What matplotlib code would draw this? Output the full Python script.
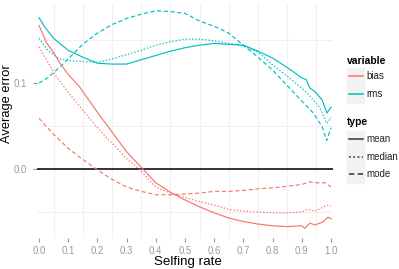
import matplotlib
matplotlib.use("Agg")
import matplotlib.pyplot as plt
from matplotlib.lines import Line2D

plt.rcParams["font.family"] = ["Liberation Sans", "DejaVu Sans"]

RED = "#F8766D"
CYAN = "#00BFC4"

# ---- data ----
rms_mean_x = [0, 0.02, 0.05, 0.1, 0.15, 0.2, 0.25, 0.3, 0.35, 0.4, 0.45, 0.5, 0.55, 0.6, 0.65, 0.7, 0.75, 0.8, 0.85, 0.9, 0.915, 0.928, 0.945, 0.97, 0.986, 1.0]
rms_mean_y = [0.176, 0.165, 0.152, 0.138, 0.130, 0.123, 0.122, 0.122, 0.127, 0.132, 0.137, 0.141, 0.144, 0.146, 0.145, 0.144, 0.137, 0.129, 0.118, 0.106, 0.104, 0.094, 0.090, 0.080, 0.065, 0.072]

rms_median_x = [0, 0.03, 0.07, 0.1, 0.15, 0.2, 0.25, 0.3, 0.35, 0.4, 0.45, 0.5, 0.55, 0.6, 0.65, 0.7, 0.75, 0.8, 0.85, 0.9, 0.92, 0.96, 0.986, 1.0]
rms_median_y = [0.152, 0.138, 0.128, 0.126, 0.125, 0.124, 0.128, 0.133, 0.138, 0.144, 0.148, 0.151, 0.151, 0.149, 0.146, 0.143, 0.136, 0.121, 0.108, 0.094, 0.088, 0.072, 0.053, 0.060]

rms_mode_x = [0, 0.03, 0.06, 0.1, 0.15, 0.2, 0.25, 0.3, 0.35, 0.4, 0.45, 0.5, 0.55, 0.6, 0.65, 0.7, 0.75, 0.8, 0.85, 0.9, 0.94, 0.97, 0.985, 1.0]
rms_mode_y = [0.100, 0.106, 0.115, 0.128, 0.145, 0.158, 0.168, 0.175, 0.180, 0.184, 0.183, 0.181, 0.172, 0.166, 0.158, 0.144, 0.130, 0.115, 0.097, 0.079, 0.065, 0.049, 0.033, 0.048]

bias_mean_x = [0, 0.027, 0.045, 0.072, 0.1, 0.14, 0.2, 0.25, 0.3, 0.35, 0.4, 0.45, 0.5, 0.55, 0.6, 0.65, 0.7, 0.75, 0.8, 0.85, 0.9, 0.91, 0.928, 0.945, 0.97, 0.99, 1.0]
bias_mean_y = [0.167, 0.146, 0.138, 0.123, 0.110, 0.095, 0.066, 0.043, 0.020, 0.002, -0.016, -0.027, -0.036, -0.044, -0.051, -0.057, -0.061, -0.064, -0.066, -0.067, -0.066, -0.069, -0.063, -0.065, -0.062, -0.056, -0.058]

bias_median_x = [0, 0.06, 0.117, 0.2, 0.25, 0.3, 0.346, 0.4, 0.45, 0.5, 0.55, 0.6, 0.65, 0.7, 0.75, 0.8, 0.85, 0.9, 0.92, 0.945, 0.97, 0.986, 1.0]
bias_median_y = [0.142, 0.107, 0.082, 0.048, 0.030, 0.012, -0.001, -0.021, -0.028, -0.033, -0.038, -0.042, -0.047, -0.049, -0.050, -0.051, -0.051, -0.050, -0.047, -0.049, -0.045, -0.042, -0.043]

bias_mode_x = [0, 0.045, 0.1, 0.15, 0.2, 0.25, 0.3, 0.35, 0.4, 0.45, 0.5, 0.55, 0.6, 0.65, 0.7, 0.75, 0.8, 0.85, 0.9, 0.928, 0.95, 0.98, 1.0]
bias_mode_y = [0.059, 0.042, 0.024, 0.011, -0.001, -0.012, -0.021, -0.026, -0.030, -0.030, -0.029, -0.028, -0.026, -0.026, -0.025, -0.023, -0.022, -0.020, -0.018, -0.015, -0.016, -0.016, -0.021]

x_ticks = [0.0, 0.1, 0.2, 0.3, 0.4, 0.5, 0.6, 0.7, 0.8, 0.9, 1.0]
x_tick_labels = ["0.0", "0.1", "0.2", "0.3", "0.4", "0.5", "0.6", "0.7", "0.8", "0.9", "1.0"]
y_ticks = [0.0, 0.1]
y_tick_labels = ["0.0", "0.1"]
variables = ["bias", "rms"]
types = ["mean", "median", "mode"]

# ---- figure ----
W, H = 399, 269
fig = plt.figure(figsize=(W / 100, H / 100), dpi=100)
L, R, T, B = 37.0, 333.0, 3.5, 237.5
ax = fig.add_axes([L / W, 1 - B / H, (R - L) / W, (B - T) / H])

# pixel mapping: x=0 -> 39 px, x=1 -> 331 px ; y=0 -> 169 px, 0.1 per 86 px
x0px, xscale = 39.0, 292.0
y0px, yscale = 169.0, 860.0
ax.set_xlim((L - x0px) / xscale, (R - x0px) / xscale)
ax.set_ylim((y0px - B) / yscale, (y0px - T) / yscale)

dotted = (0, (1.2, 1.6))
dashed = (0, (3.5, 2.2))
lw = 0.85

ax.axhline(0, color="#333333", lw=1.4, zorder=3)

ax.plot(rms_mean_x, rms_mean_y, color=CYAN, lw=lw, zorder=4)
ax.plot(rms_median_x, rms_median_y, color=CYAN, lw=lw, linestyle=dotted, zorder=4)
ax.plot(rms_mode_x, rms_mode_y, color=CYAN, lw=lw, linestyle=dashed, zorder=4)
ax.plot(bias_mean_x, bias_mean_y, color=RED, lw=lw, zorder=4)
ax.plot(bias_median_x, bias_median_y, color=RED, lw=lw, linestyle=dotted, zorder=4)
ax.plot(bias_mode_x, bias_mode_y, color=RED, lw=lw, linestyle=dashed, zorder=4)

for s in ax.spines.values():
    s.set_visible(False)

# light grid at midpoints
for gx in [0.05 + 0.1 * i for i in range(10)]:
    ax.axvline(gx, color="#F0F0F0", lw=0.8, zorder=0)
for gy in [-0.05, 0.05, 0.15]:
    ax.axhline(gy, color="#F0F0F0", lw=0.8, zorder=0)

ax.set_xticks(x_ticks)
ax.set_xticklabels(x_tick_labels)
ax.set_yticks(y_ticks)
ax.set_yticklabels(y_tick_labels)
ax.tick_params(axis="both", colors="#999999", labelcolor="#999999", labelsize=6.9,
               length=3, width=0.8)
ax.tick_params(axis="y", pad=4.5)
ax.tick_params(axis="x", pad=3.0)

def fx(px):
    return px / W

def fy(py):
    return 1 - py / H

fig.text(fx(187.5), fy(265), "Selfing rate", fontsize=9.6, color="black", ha="center", va="baseline")
fig.text(fx(7.5), fy(104), "Average error", fontsize=9.3, color="black", ha="center", va="center",
         rotation=90)

# ---- legends ----
fig.text(fx(347), fy(61), "variable", fontsize=7.4, fontweight="bold", va="center", ha="left")
key_styles_var = [RED, CYAN]
var_y = [76, 94]
for name, c, yy in zip(variables, key_styles_var, var_y):
    fig.patches.append(plt.Rectangle((fx(347), fy(yy + 8.5)), 17 / W, 17 / H,
                                     transform=fig.transFigure, color="#F2F2F2", zorder=0))
    fig.lines.append(Line2D([fx(348.5), fx(362.5)], [fy(yy), fy(yy)], transform=fig.transFigure,
                            color=c, lw=1.1))
    fig.text(fx(366.5), fy(yy), name, fontsize=7, va="center", ha="left", color="#222222")

fig.text(fx(347), fy(122), "type", fontsize=7.4, fontweight="bold", va="center", ha="left")
type_styles = ["-", dotted, dashed]
type_y = [139, 157, 174]
for name, ls, yy in zip(types, type_styles, type_y):
    fig.patches.append(plt.Rectangle((fx(347), fy(yy + 8.5)), 17 / W, 17 / H,
                                     transform=fig.transFigure, color="#F2F2F2", zorder=0))
    fig.lines.append(Line2D([fx(348.5), fx(362.5)], [fy(yy), fy(yy)], transform=fig.transFigure,
                            color="#333333", lw=1.1, linestyle=ls))
    fig.text(fx(366.5), fy(yy), name, fontsize=7, va="center", ha="left", color="#222222")

fig.savefig("out.png", dpi=100)
